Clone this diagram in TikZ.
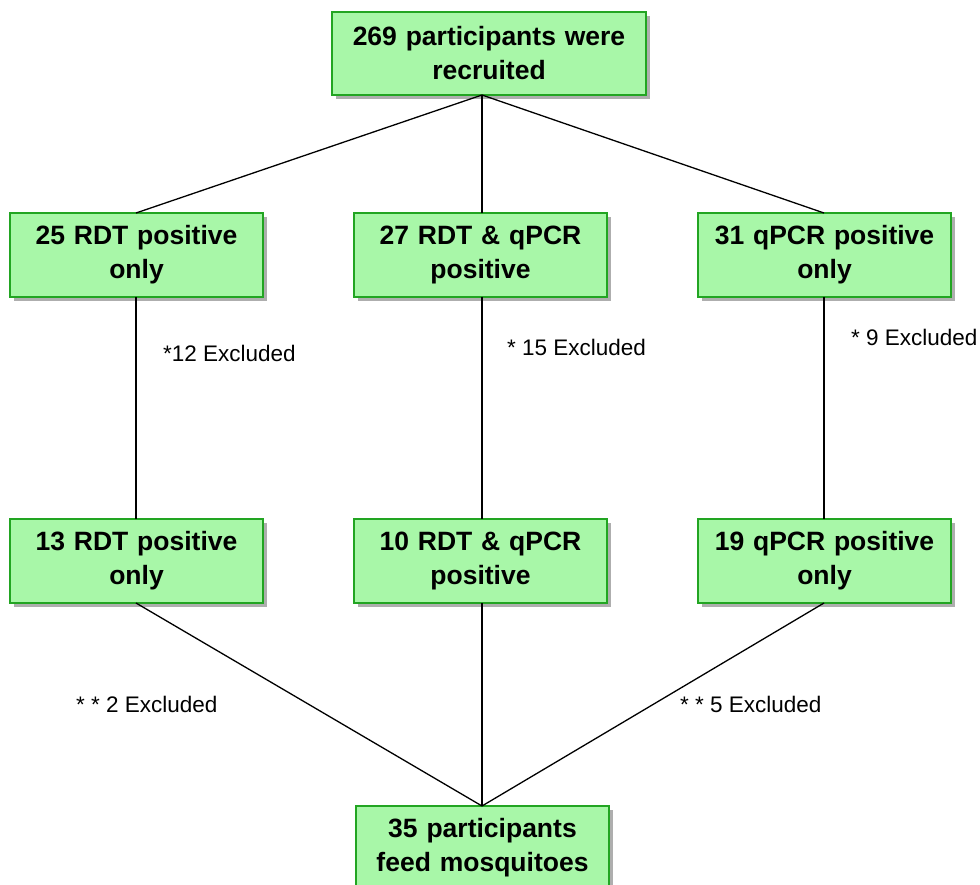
\documentclass[tikz,border=0pt]{standalone}
\usepackage{fontspec}
\setmainfont{Liberation Sans}
\usetikzlibrary{shadows}
\definecolor{boxfill}{RGB}{168,247,168}
\definecolor{boxdraw}{RGB}{34,165,34}
\begin{document}
\begin{tikzpicture}[x=1pt,y=-1pt,
  box/.style={draw=boxdraw, fill=boxfill, line width=2.4pt, inner sep=0pt,
    align=center, text width=253pt, minimum height=84pt,
    font=\fontsize{26.5}{34}\selectfont\bfseries,
    drop shadow={shadow xshift=4pt, shadow yshift=-4pt, opacity=0.45, fill=black!70}},
  link/.style={line width=1.3pt, black},
  note/.style={anchor=west, inner sep=0pt, font=\fontsize{22.5}{26}\selectfont}]
\useasboundingbox (0,0) rectangle (980,885);
\node[box, text width=314pt, minimum height=83pt] (top) at (489,53.5) {269 participants were\\recruited};
\node[box] (a1) at (136.5,255) {25 RDT positive\\only};
\node[box] (b1) at (480.5,255) {27 RDT \& qPCR\\positive};
\node[box] (c1) at (824.5,255) {31 qPCR positive\\only};
\node[box] (a2) at (136.5,561) {13 RDT positive\\only};
\node[box] (b2) at (480.5,561) {10 RDT \& qPCR\\positive};
\node[box] (c2) at (824.5,561) {19 qPCR positive\\only};
\node[box] (end) at (482.5,848) {35 participants\\feed mosquitoes};
\coordinate (j) at (482,95);
\coordinate (a1t) at (136,213);
\coordinate (c1t) at (824,213);
\coordinate (b1t) at (482,213);
\coordinate (a1b) at (136,297);
\coordinate (b1b) at (482,297);
\coordinate (c1b) at (824,297);
\coordinate (a2t) at (136,519);
\coordinate (b2t) at (482,519);
\coordinate (c2t) at (824,519);
\coordinate (a2b) at (136,603);
\coordinate (b2b) at (482,603);
\coordinate (c2b) at (824,603);
\coordinate (et) at (482,806);
\draw[link] (j) -- (a1t);
\draw[link] (j) -- (b1t);
\draw[link] (j) -- (c1t);
\draw[link] (a1b) -- (a2t);
\draw[link] (b1b) -- (b2t);
\draw[link] (c1b) -- (c2t);
\draw[link] (a2b) -- (et);
\draw[link] (b2b) -- (et);
\draw[link] (c2b) -- (et);
\node[note] (n1) at (163,353) {*12 Excluded};
\node[note] (n2) at (507,347) {* 15 Excluded};
\node[note] (n3) at (851,337) {* 9 Excluded};
\node[note] (n4) at (76,704) {* * 2 Excluded};
\node[note] (n5) at (680,704) {* * 5 Excluded};
\end{tikzpicture}
\end{document}
